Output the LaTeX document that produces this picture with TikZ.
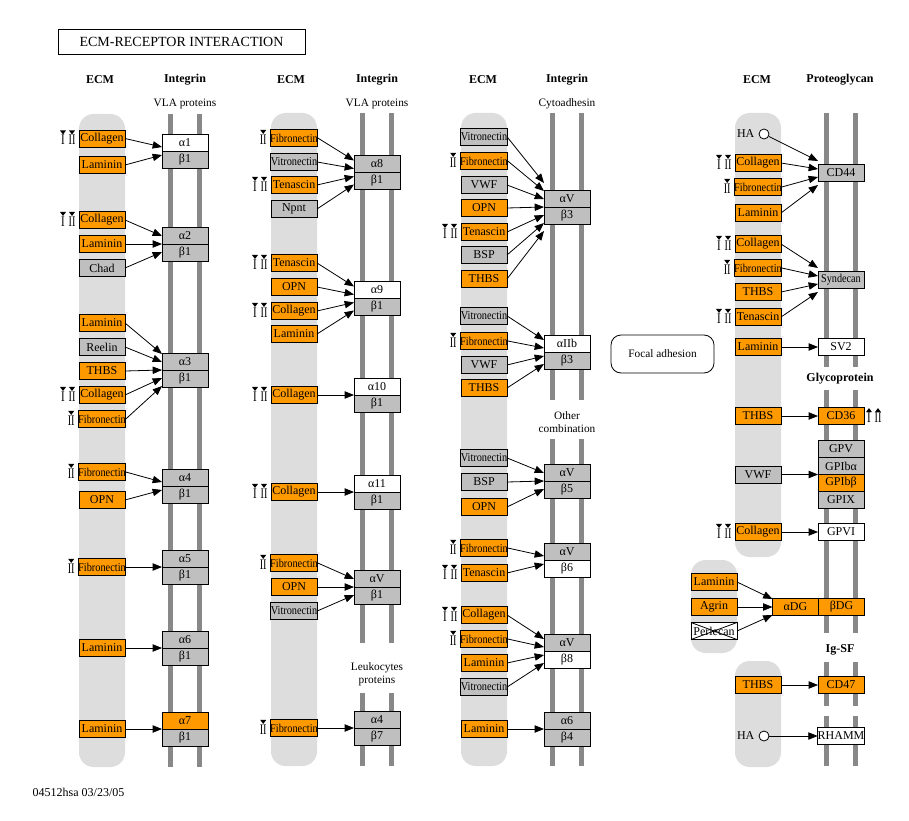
\documentclass[tikz,border=0pt]{standalone}
\usepackage{fontspec}
\setmainfont{Liberation Serif}
\usepackage{graphicx}
\usetikzlibrary{arrows.meta,positioning,calc}
\definecolor{hitcol}{RGB}{255,153,0}
\definecolor{nohitcol}{RGB}{191,191,191}
\definecolor{lanecol}{RGB}{221,221,221}
\definecolor{barcol}{RGB}{136,136,136}

\tikzset{
  mol/.style={draw, rectangle, minimum width=34.5pt, minimum height=12.75pt,
    inner sep=0pt, outer sep=0pt, line width=0.6pt},
  hit/.style={mol, fill=hitcol},
  nohit/.style={mol, fill=nohitcol},
  absent/.style={mol, fill=white},
  head/.style={font=\bfseries\fontsize{9}{10}\selectfont},
  sub/.style={font=\fontsize{8.5}{9.5}\selectfont, align=center},
  inhib/.style={inner sep=0pt, font=\fontsize{11}{11}\selectfont},
  lane/.style={fill=lanecol, rounded corners=11pt},
  bar/.style={draw=barcol, line width=3.75pt},
  ha/.style={circle, draw, fill=white, minimum size=7.5pt, inner sep=0pt, line width=0.6pt}
}
\newcommand{\nar}[1]{\scalebox{0.86}[1]{#1}}
% drug target marks left of an ECM node
\newcommand{\drugI}[1]{%
  \node[inhib] (#1-m1) at ($(#1.west)+(-16,1.5)$) {\scalebox{0.75}[1]{I}};
  \fill ($(#1-m1.north)+(-3,-4.5)$) -- ($(#1-m1.north)+(3,-4.5)$) -- ($(#1-m1.north)+(0,-0.5)$) -- cycle;}
\newcommand{\drugII}[1]{%
  \node[inhib] (#1-m2) at ($(#1.west)+(-7,1.5)$) {\scalebox{0.7}[1]{II}};
  \fill ($(#1-m2.north)+(-3,-4.5)$) -- ($(#1-m2.north)+(3,-4.5)$) -- ($(#1-m2.north)+(0,-0.5)$) -- cycle;}
\newcommand{\drugboth}[1]{\drugI{#1}\drugII{#1}}

\begin{document}
\begin{tikzpicture}[x=0.75pt, y=-0.75pt, >={Triangle[length=7pt,width=5.5pt]},
  font=\fontsize{9}{10}\selectfont]

  \fill[white] (0,0) rectangle (909,820);
  \useasboundingbox (0,0) rectangle (909,820);

  \node[draw, line width=0.6pt, minimum width=185.25pt, minimum height=18.75pt,
    font=\fontsize{10.5}{11}\selectfont] (title) at (181.5,41.5) {ECM-RECEPTOR INTERACTION};

  % lanes and membrane bars
  \fill[lane] (79,114) rectangle (125,767);
  \fill[lane] (271,113) rectangle (317,766);
  \fill[lane] (461,113) rectangle (507,766);
  \fill[lane] (735,113) rectangle (781,557);
  \fill[lane] (691,560) rectangle (737,653);
  \fill[lane] (735,661) rectangle (781,767);
  \draw[bar] (170.5,114) -- (170.5,767) (199.5,114) -- (199.5,767);
  \draw[bar] (362.5,113) -- (362.5,643) (391.5,113) -- (391.5,643)
             (362.5,693) -- (362.5,766) (391.5,693) -- (391.5,766);
  \draw[bar] (552.5,113) -- (552.5,400) (581.5,113) -- (581.5,400)
             (552.5,439) -- (552.5,766) (581.5,439) -- (581.5,766);
  \draw[bar] (826.5,113) -- (826.5,367) (855.5,113) -- (855.5,367)
             (826.5,390) -- (826.5,633) (855.5,390) -- (855.5,633)
             (826.5,662) -- (826.5,706) (855.5,662) -- (855.5,706)
             (826.5,716) -- (826.5,766) (855.5,716) -- (855.5,766);

  % headers
  \node[head] (h1) at (100,80) {ECM};
  \node[head] (h2) at (185,80) {Integrin};
  \node[head] (h3) at (291,80) {ECM};
  \node[head] (h4) at (377,80) {Integrin};
  \node[head] (h5) at (483,80) {ECM};
  \node[head] (h6) at (567,80) {Integrin};
  \node[head] (h7) at (757,80) {ECM};
  \node[head] (h8) at (840,80) {Proteoglycan};
  \node[head] (h9) at (840,379) {Glycoprotein};
  \node[head] (h10) at (840,650) {Ig-SF};
  \node[sub] (sub1) at (185,104) {VLA proteins};
  \node[sub] (sub2) at (377,104) {VLA proteins};
  \node[sub] (sub3) at (567,104) {Cytoadhesin};
  \node[sub] (sub4) at (567,422) {Other\\combination};
  \node[sub] (sub5) at (377,674) {Leukocytes\\proteins};

  % column 1
  \node[hit] (s1-1) at (102,138.5) {Collagen};
  \node[hit] (s1-2) at (102,165) {Laminin};
  \node[hit] (s1-3) at (102,220) {Collagen};
  \node[hit] (s1-4) at (102,244) {Laminin};
  \node[nohit] (s1-5) at (102,268) {Chad};
  \node[hit] (s1-6) at (102,323) {Laminin};
  \node[nohit] (s1-7) at (102,347) {Reelin};
  \node[hit] (s1-8) at (102,371) {THBS};
  \node[hit] (s1-9) at (102,395) {Collagen};
  \node[hit] (s1-10) at (102,419) {\nar{Fibronectin}};
  \node[hit] (s1-11) at (102,472) {\nar{Fibronectin}};
  \node[hit] (s1-12) at (102,500) {OPN};
  \node[hit] (s1-13) at (102,567) {\nar{Fibronectin}};
  \node[hit] (s1-14) at (102,648) {Laminin};
  \node[hit] (s1-15) at (102,729) {Laminin};
  \drugboth{s1-1} \drugboth{s1-3} \drugboth{s1-9}
  \drugII{s1-10} \drugII{s1-11} \drugII{s1-13}

  \node[absent] (a1-1) at (185,142.5) {α1};
  \node[nohit, below=0pt of a1-1] (b1-1) {β1};
  \node[nohit] (a1-2) at (185,235.5) {α2};
  \node[nohit, below=0pt of a1-2] (b1-2) {β1};
  \node[nohit] (a1-3) at (185,361.5) {α3};
  \node[nohit, below=0pt of a1-3] (b1-3) {β1};
  \node[nohit] (a1-4) at (185,477.5) {α4};
  \node[nohit, below=0pt of a1-4] (b1-4) {β1};
  \node[nohit] (a1-5) at (185,558.5) {α5};
  \node[nohit, below=0pt of a1-5] (b1-5) {β1};
  \node[nohit] (a1-6) at (185,639.5) {α6};
  \node[nohit, below=0pt of a1-6] (b1-6) {β1};
  \node[hit] (a1-7) at (185,720.5) {α7};
  \node[nohit, below=0pt of a1-7] (b1-7) {β1};

  \path[->, line width=0.6pt]
    (s1-1.east) edge ([yshift=3pt]a1-1.south west)
    (s1-2.east) edge ([yshift=-3pt]a1-1.south west)
    (s1-3.east) edge ([yshift=6pt]a1-2.south west)
    (s1-4.east) edge (a1-2.south west)
    (s1-5.east) edge ([yshift=-6pt]a1-2.south west)
    (s1-6.east) edge ([yshift=12pt]a1-3.south west)
    (s1-7.east) edge ([yshift=6pt]a1-3.south west)
    (s1-8.east) edge (a1-3.south west)
    (s1-9.east) edge ([yshift=-6pt]a1-3.south west)
    (s1-10.east) edge ([yshift=-12pt]a1-3.south west)
    (s1-11.east) edge ([yshift=3pt]a1-4.south west)
    (s1-12.east) edge ([yshift=-3pt]a1-4.south west)
    (s1-13.east) edge (a1-5.south west)
    (s1-14.east) edge (a1-6.south west)
    (s1-15.east) edge (a1-7.south west);

  % column 2
  \node[hit] (s2-1) at (294,138) {\nar{Fibronectin}};
  \node[nohit] (s2-2) at (294,162) {\nar{Vitronectin}};
  \node[hit] (s2-3) at (294,185) {Tenascin};
  \node[nohit] (s2-4) at (294,209) {Npnt};
  \node[hit] (s2-5) at (294,263) {Tenascin};
  \node[hit] (s2-6) at (294,287) {OPN};
  \node[hit] (s2-7) at (294,311) {Collagen};
  \node[hit] (s2-8) at (294,334) {Laminin};
  \node[hit] (s2-9) at (294,395) {Collagen};
  \node[hit] (s2-10) at (294,492) {Collagen};
  \node[hit] (s2-11) at (294,563) {\nar{Fibronectin}};
  \node[hit] (s2-12) at (294,587) {OPN};
  \node[nohit] (s2-13) at (294,611) {\nar{Vitronectin}};
  \node[hit] (s2-14) at (294,728) {\nar{Fibronectin}};
  \drugII{s2-1} \drugboth{s2-3} \drugboth{s2-5} \drugboth{s2-7}
  \drugboth{s2-9} \drugboth{s2-10} \drugII{s2-11} \drugII{s2-14}

  \node[nohit] (a2-1) at (377,164) {α8};
  \node[nohit, below=0pt of a2-1] (b2-1) {β1};
  \node[absent] (a2-2) at (377,290) {α9};
  \node[nohit, below=0pt of a2-2] (b2-2) {β1};
  \node[absent] (a2-3) at (377,386.5) {α10};
  \node[nohit, below=0pt of a2-3] (b2-3) {β1};
  \node[absent] (a2-4) at (377,483.5) {α11};
  \node[nohit, below=0pt of a2-4] (b2-4) {β1};
  \node[nohit] (a2-5) at (377,578.5) {αV};
  \node[nohit, below=0pt of a2-5] (b2-5) {β1};
  \node[nohit] (a2-6) at (377,719.5) {α4};
  \node[nohit, below=0pt of a2-6] (b2-6) {β7};

  \path[->, line width=0.6pt]
    (s2-1.east) edge ([yshift=9pt]a2-1.south west)
    (s2-2.east) edge ([yshift=3pt]a2-1.south west)
    (s2-3.east) edge ([yshift=-3pt]a2-1.south west)
    (s2-4.east) edge ([yshift=-9pt]a2-1.south west)
    (s2-5.east) edge ([yshift=9pt]a2-2.south west)
    (s2-6.east) edge ([yshift=3pt]a2-2.south west)
    (s2-7.east) edge ([yshift=-3pt]a2-2.south west)
    (s2-8.east) edge ([yshift=-9pt]a2-2.south west)
    (s2-9.east) edge (a2-3.south west)
    (s2-10.east) edge (a2-4.south west)
    (s2-11.east) edge ([yshift=6pt]a2-5.south west)
    (s2-12.east) edge (a2-5.south west)
    (s2-13.east) edge ([yshift=-6pt]a2-5.south west)
    (s2-14.east) edge (a2-6.south west);

  % column 3
  \node[nohit] (s3-1) at (484,137) {\nar{Vitronectin}};
  \node[hit] (s3-2) at (484,161) {\nar{Fibronectin}};
  \node[nohit] (s3-3) at (484,185) {VWF};
  \node[hit] (s3-4) at (484,208) {OPN};
  \node[hit] (s3-5) at (484,232) {Tenascin};
  \node[nohit] (s3-6) at (484,255) {BSP};
  \node[hit] (s3-7) at (484,279) {THBS};
  \node[nohit] (s3-8) at (484,316) {\nar{Vitronectin}};
  \node[hit] (s3-9) at (484,341) {\nar{Fibronectin}};
  \node[nohit] (s3-10) at (484,365) {VWF};
  \node[hit] (s3-11) at (484,388) {THBS};
  \node[nohit] (s3-12) at (484,458) {\nar{Vitronectin}};
  \node[nohit] (s3-13) at (484,482) {BSP};
  \node[hit] (s3-14) at (484,507) {OPN};
  \node[hit] (s3-15) at (484,548) {\nar{Fibronectin}};
  \node[hit] (s3-16) at (484,573) {Tenascin};
  \node[hit] (s3-17) at (484,615) {Collagen};
  \node[hit] (s3-18) at (484,639) {\nar{Fibronectin}};
  \node[hit] (s3-19) at (484,663) {Laminin};
  \node[nohit] (s3-20) at (484,687) {\nar{Vitronectin}};
  \node[hit] (s3-21) at (484,729) {Laminin};
  \drugII{s3-2} \drugboth{s3-5} \drugII{s3-9} \drugII{s3-15}
  \drugboth{s3-16} \drugboth{s3-17} \drugII{s3-18}

  \node[nohit] (a3-1) at (567,198.5) {αV};
  \node[nohit, below=0pt of a3-1] (b3-1) {β3};
  \node[absent] (a3-2) at (567,343.5) {αIIb};
  \node[nohit, below=0pt of a3-2] (b3-2) {β3};
  \node[nohit] (a3-3) at (567,472.5) {αV};
  \node[nohit, below=0pt of a3-3] (b3-3) {β5};
  \node[nohit] (a3-4) at (567,551.5) {αV};
  \node[absent, below=0pt of a3-4] (b3-4) {β6};
  \node[nohit] (a3-5) at (567,642.5) {αV};
  \node[absent, below=0pt of a3-5] (b3-5) {β8};
  \node[nohit] (a3-6) at (567,720.5) {α6};
  \node[nohit, below=0pt of a3-6] (b3-6) {β4};

  \path[->, line width=0.6pt]
    (s3-1.east) edge ([yshift=18pt]a3-1.south west)
    (s3-2.east) edge ([yshift=12pt]a3-1.south west)
    (s3-3.east) edge ([yshift=6pt]a3-1.south west)
    (s3-4.east) edge (a3-1.south west)
    (s3-5.east) edge ([yshift=-6pt]a3-1.south west)
    (s3-6.east) edge ([yshift=-12pt]a3-1.south west)
    (s3-7.east) edge ([yshift=-18pt]a3-1.south west)
    (s3-8.east) edge ([yshift=9pt]a3-2.south west)
    (s3-9.east) edge ([yshift=3pt]a3-2.south west)
    (s3-10.east) edge ([yshift=-3pt]a3-2.south west)
    (s3-11.east) edge ([yshift=-9pt]a3-2.south west)
    (s3-12.east) edge ([yshift=6pt]a3-3.south west)
    (s3-13.east) edge (a3-3.south west)
    (s3-14.east) edge ([yshift=-6pt]a3-3.south west)
    (s3-15.east) edge ([yshift=3pt]a3-4.south west)
    (s3-16.east) edge ([yshift=-3pt]a3-4.south west)
    (s3-17.east) edge ([yshift=9pt]a3-5.south west)
    (s3-18.east) edge ([yshift=3pt]a3-5.south west)
    (s3-19.east) edge ([yshift=-3pt]a3-5.south west)
    (s3-20.east) edge ([yshift=-9pt]a3-5.south west)
    (s3-21.east) edge (a3-6.south west);

  \node[draw, fill=white, line width=0.6pt, rounded corners=7.5pt, minimum width=77.25pt,
    minimum height=28.5pt, font=\fontsize{8.5}{9}\selectfont] (focal) at (662.5,354) {Focal adhesion};

  % column 4
  \node[ha] (ha1) at (764,134) {};
  \node[left=3pt of ha1, inner sep=0pt] (ha1-l) {HA};
  \node[hit] (s4-1) at (758,163) {Collagen};
  \node[hit] (s4-2) at (758,187) {\nar{Fibronectin}};
  \node[hit] (s4-3) at (758,213) {Laminin};
  \node[hit] (s4-4) at (758,244) {Collagen};
  \node[hit] (s4-5) at (758,268) {\nar{Fibronectin}};
  \node[hit] (s4-6) at (758,292) {THBS};
  \node[hit] (s4-7) at (758,317) {Tenascin};
  \node[hit] (s4-8) at (758,347) {Laminin};
  \node[hit] (s4-9) at (758,416) {THBS};
  \node[nohit] (s4-10) at (758,474.5) {VWF};
  \node[hit] (s4-11) at (758,532) {Collagen};
  \drugboth{s4-1} \drugII{s4-2} \drugboth{s4-4} \drugII{s4-5}
  \drugboth{s4-7} \drugboth{s4-11}

  \node[nohit] (p4-1) at (841,173) {CD44};
  \node[nohit] (p4-2) at (841,280) {\scalebox{0.85}[1]{Syndecan}};
  \node[absent] (p4-3) at (841,347) {SV2};
  \node[hit] (g4-1) at (841,416) {CD36};
  \node[inhib] (g4-1-m1) at ($(g4-1.east)+(5,2)$) {\scalebox{0.75}[1]{I}};
  \fill ($(g4-1-m1.north)+(-3,-0.8)$) -- ($(g4-1-m1.north)+(3,-0.8)$) -- ($(g4-1-m1.north)+(0,-4.8)$) -- cycle;
  \node[inhib] (g4-1-m2) at ($(g4-1.east)+(14,2)$) {\scalebox{0.7}[1]{II}};
  \fill ($(g4-1-m2.north)+(-3,-0.8)$) -- ($(g4-1-m2.north)+(3,-0.8)$) -- ($(g4-1-m2.north)+(0,-4.8)$) -- cycle;
  \node[nohit] (g4-2) at (841,449) {GPV};
  \node[nohit, below=0pt of g4-2] (g4-3) {GPIbα};
  \node[hit, below=0pt of g4-3] (g4-4) {GPIbβ};
  \node[nohit, below=0pt of g4-4] (g4-5) {GPIX};
  \node[absent] (g4-6) at (841,532) {GPVI};

  \node[hit] (s5-1) at (714,582) {Laminin};
  \node[hit] (s5-2) at (714,607) {Agrin};
  \node[absent] (s5-3) at (714,631) {Perlecan};
  \draw[line width=0.6pt] (s5-3.north west) -- (s5-3.south east) (s5-3.south west) -- (s5-3.north east);
  \node[hit] (d4-1) at (795.5,607) {αDG};
  \node[hit, right=0pt of d4-1] (d4-2) {βDG};

  \node[hit] (s6-1) at (758,685) {THBS};
  \node[hit] (i4-1) at (841,685) {CD47};
  \node[ha] (ha2) at (764,736) {};
  \node[left=3pt of ha2, inner sep=0pt] (ha2-l) {HA};
  \node[absent] (i4-2) at (841,736) {RHAMM};

  \path[->, line width=0.6pt]
    (ha1) edge ([yshift=9pt]p4-1.west)
    (s4-1.east) edge ([yshift=3pt]p4-1.west)
    (s4-2.east) edge ([yshift=-3pt]p4-1.west)
    (s4-3.east) edge ([yshift=-9pt]p4-1.west)
    (s4-4.east) edge ([yshift=9pt]p4-2.west)
    (s4-5.east) edge ([yshift=3pt]p4-2.west)
    (s4-6.east) edge ([yshift=-3pt]p4-2.west)
    (s4-7.east) edge ([yshift=-9pt]p4-2.west)
    (s4-8.east) edge (p4-3.west)
    (s4-9.east) edge (g4-1.west)
    (s4-10.east) edge (g4-3.south west)
    (s4-11.east) edge (g4-6.west)
    (s5-1.east) edge ([yshift=6pt]d4-1.west)
    (s5-2.east) edge (d4-1.west)
    (s5-3.east) edge ([yshift=-6pt]d4-1.west)
    (s6-1.east) edge (i4-1.west)
    (ha2.east) edge (i4-2.west);

  \node[anchor=west] (stamp) at (28,792) {04512hsa 03/23/05};

\end{tikzpicture}
\end{document}
